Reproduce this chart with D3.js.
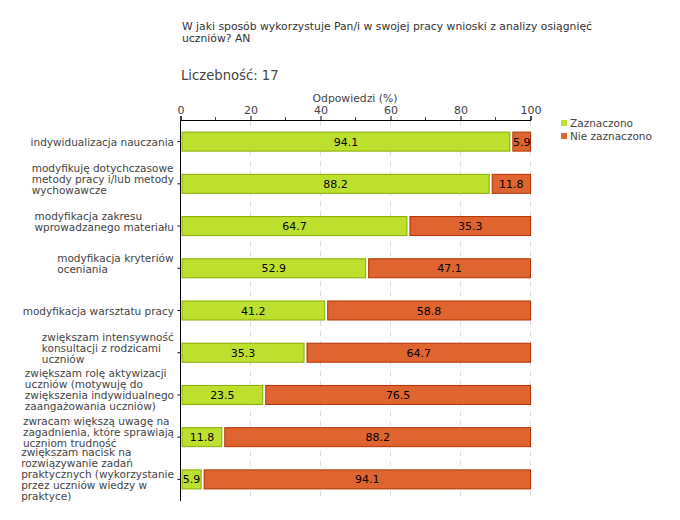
<!DOCTYPE html>
<html><head><meta charset="utf-8">
<script src="https://cdn.jsdelivr.net/npm/d3@7"></script>
<style>body{margin:0;background:#fff;} svg{display:block;}</style>
</head><body>
<svg id="chart" width="680" height="520"></svg>
<script>
const categories = [
  ["indywidualizacja nauczania"],
  ["modyfikuję dotychczasowe","metody pracy i/lub metody","wychowawcze"],
  ["modyfikacja zakresu","wprowadzanego materiału"],
  ["modyfikacja kryteriów","oceniania"],
  ["modyfikacja warsztatu pracy"],
  ["zwiększam intensywność","konsultacji z rodzicami","uczniów"],
  ["zwiększam rolę aktywizacji","uczniów (motywuję do","zwiększenia indywidualnego","zaangażowania uczniów)"],
  ["zwracam większą uwagę na","zagadnienia, które sprawiają","uczniom trudność"],
  ["zwiększam nacisk na","rozwiązywanie zadań","praktycznych (wykorzystanie","przez uczniów wiedzy w","praktyce)"]
];
const zaznaczono = [94.1, 88.2, 64.7, 52.9, 41.2, 35.3, 23.5, 11.8, 5.9];
const nieZaznaczono = [5.9, 11.8, 35.3, 47.1, 58.8, 64.7, 76.5, 88.2, 94.1];
const seriesNames = ["Zaznaczono", "Nie zaznaczono"];
const majorTicks = [0, 20, 40, 60, 80, 100];
const minorTicks = [10, 30, 50, 70, 90];

const svg = d3.select("#chart");
const font = "DejaVu Sans, Verdana, sans-serif";
const x = d3.scaleLinear().domain([0, 100]).range([180.5, 530.5]);
const y = d3.scaleBand().domain(d3.range(categories.length)).range([120, 500]).paddingInner(0).paddingOuter(0);

// title
svg.append("text").attr("x", 182).attr("y", 30).attr("font-family", font).attr("font-size", 10.8).attr("fill", "#333")
  .text("W jaki sposób wykorzystuje Pan/i w swojej pracy wnioski z analizy osiągnięć");
svg.append("text").attr("x", 182).attr("y", 42).attr("font-family", font).attr("font-size", 10.8).attr("fill", "#333")
  .text("uczniów? AN");
svg.append("text").attr("x", 181).attr("y", 80).attr("font-family", font).attr("font-size", 13.2).attr("fill", "#444")
  .text("Liczebność: 17");

// axis title
svg.append("text").attr("x", 355).attr("y", 102).attr("text-anchor", "middle").attr("font-family", font)
  .attr("font-size", 10.8).attr("fill", "#444").text("Odpowiedzi (%)");

// grid
svg.append("g").selectAll("line").data(majorTicks.slice(1)).join("line")
  .attr("x1", d => x(d)).attr("x2", d => x(d)).attr("y1", 121).attr("y2", 500)
  .attr("stroke", "#ddd").attr("stroke-dasharray", "5,5");

// top axis
const axis = d3.axisTop(x).tickValues(majorTicks).tickSize(4).tickPadding(2);
const gA = svg.append("g").attr("transform", "translate(0,120)").call(axis);
gA.select(".domain").attr("stroke", "#000");
gA.selectAll(".tick line").attr("stroke", "#000");
gA.selectAll(".tick text").attr("font-family", font).attr("font-size", 11).attr("fill", "#444");
svg.append("g").selectAll("line").data(minorTicks).join("line")
  .attr("x1", d => x(d)).attr("x2", d => x(d)).attr("y1", 117).attr("y2", 120)
  .attr("stroke", "#d00");

// y axis
svg.append("line").attr("x1", x(0)).attr("x2", x(0)).attr("y1", 120).attr("y2", 501).attr("stroke", "#000");
const bh = 19;
const rows = svg.append("g").selectAll("g").data(categories).join("g");
rows.each(function(lines, i) {
  const g = d3.select(this);
  const cy = y(i) + y.bandwidth() / 2 + 0.5;
  g.append("line").attr("x1", x(0) - 3).attr("x2", x(0)).attr("y1", cy).attr("y2", cy).attr("stroke", "#000");
  const n = lines.length;
  const shift = n > 1 ? -5 : 0;
  const t = g.append("text").attr("font-family", font).attr("font-size", 10.5).attr("fill", "#444");
  lines.forEach((l, k) => {
    t.append("tspan").attr("x", 0).attr("y", cy + (k - (n - 1) / 2) * 11 + shift + 4).text(l);
  });
  const w = t.node().getBBox().width;
  t.selectAll("tspan").attr("x", 174 - w);
  // bars
  const v1 = zaznaczono[i], v2 = nieZaznaczono[i];
  g.append("rect").attr("x", x(0) + 1.5).attr("y", cy - bh / 2).attr("width", x(v1) - x(0) - 1.5).attr("height", bh)
    .attr("fill", "#bde02e").attr("stroke", "#88aa00").attr("stroke-width", 1);
  g.append("rect").attr("x", x(v1) + 3).attr("y", cy - bh / 2).attr("width", x(100) - x(v1) - 3).attr("height", bh)
    .attr("fill", "#e06430").attr("stroke", "#b03000").attr("stroke-width", 1);
  g.append("text").attr("x", (x(0) + 1.5 + x(v1)) / 2).attr("y", cy + 4).attr("text-anchor", "middle")
    .attr("font-family", font).attr("font-size", 11).attr("fill", "#000").text(v1.toFixed(1));
  g.append("text").attr("x", (x(v1) + 3 + x(100)) / 2).attr("y", cy + 4).attr("text-anchor", "middle")
    .attr("font-family", font).attr("font-size", 11).attr("fill", "#000").text(v2.toFixed(1));
});

// legend
const colors = ["#bde02e", "#e06430"];
const lg = svg.append("g").selectAll("g").data(seriesNames).join("g")
  .attr("transform", (d, i) => `translate(561,${120 + i * 13})`);
lg.append("rect").attr("width", 6).attr("height", 6).attr("fill", (d, i) => colors[i]);
lg.append("text").attr("x", 9).attr("y", 7).attr("font-family", font).attr("font-size", 10.5).attr("fill", "#444").text(d => d);
</script>
</body></html>
